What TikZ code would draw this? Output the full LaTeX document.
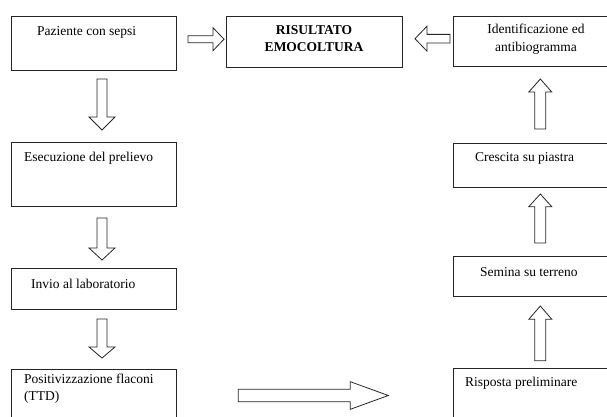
\documentclass[tikz,border=0pt]{standalone}
\usepackage{fontspec}
\setmainfont{Liberation Serif}
\usetikzlibrary{fit}

\tikzset{
  box/.style={draw=black!85, line width=0.9pt, inner sep=0pt, fill=none},
  lbl/.style={font=\fontsize{13.5}{17.5}\selectfont, inner sep=0pt, anchor=base west, align=left},
  ctr/.style={lbl, anchor=base, align=center},
  blk/.style={draw=black!85, line width=0.8pt, fill=white, line join=miter},
}

% Hollow block arrow: #1 direction angle, #2 tail centre,
% #3 shaft length, #4 head length, #5 shaft half width, #6 head half width
\newcommand\blockarrow[6]{%
  \draw[blk, shift={#2}, rotate=#1]
    (0,-#5) -- (#3,-#5) -- (#3,-#6) -- ({#3+#4},0) -- (#3,#6) -- (#3,#5) -- (0,#5) -- cycle;}

\begin{document}
\begin{tikzpicture}[x=1pt, y=-1pt]
  \useasboundingbox (0,0) rectangle (607,417);
  \clip (0,0) rectangle (607,417);

  % left column
  \node[box, fit={(11.7,16.7) (176,70)}]    (paz) {};
  \node[box, fit={(11.7,142.7) (176,206.7)}] (ese) {};
  \node[box, fit={(11.7,268.3) (176,309.3)}] (inv) {};
  \node[box, fit={(11.7,369.3) (176,430)}]   (pos) {};

  % result
  \node[box, fit={(226,16) (402.7,67.7)}]    (ris) {};

  % right column
  \node[box, fit={(453,16) (620,66.7)}]      (idf) {};
  \node[box, fit={(453,143) (620,187.3)}]    (cre) {};
  \node[box, fit={(453,256.5) (620,296)}]    (sem) {};
  \node[box, fit={(453,368.5) (620,430)}]    (rsp) {};

  % labels (multi-line labels are placed by the baseline of their last line)
  \node[lbl] (tpaz) at (37,36) {Paziente con sepsi};
  \node[lbl] (tese) at (24,161.7) {Esecuzione del prelievo};
  \node[lbl] (tinv) at (31,288.3) {Invio al laboratorio};
  \node[lbl] (tpos) at (24,400.5) {Positivizzazione flaconi\\(TTD)};
  \node[ctr] (tris) at (314,52) {\textbf{RISULTATO}\\\textbf{EMOCOLTURA}};
  \node[ctr] (tidf) at (536,51.5) {Identificazione ed\\antibiogramma};
  \node[lbl] (tcre) at (475,161.7) {Crescita su piastra};
  \node[lbl] (tsem) at (480,276) {Semina su terreno};
  \node[lbl] (trsp) at (465,386.7) {Risposta preliminare};

  % block arrows
  \blockarrow{0}{(188,39.2)}{25}{11}{3.5}{11.5}      % paz -> ris
  \blockarrow{180}{(450,38.7)}{23}{12}{4.3}{12.5}    % idf -> ris
  \blockarrow{-90}{(102,79)}{38}{13}{5}{13}          % paz -> ese
  \blockarrow{-90}{(102,218)}{30}{12}{5}{13}         % ese -> inv
  \blockarrow{-90}{(102,319)}{28}{11}{5}{13}         % inv -> pos
  \blockarrow{0}{(238.3,395.5)}{112}{38}{6.2}{13.8}  % pos -> rsp
  \blockarrow{90}{(540.3,360.7)}{41.4}{13.3}{5.5}{11.5} % rsp -> sem
  \blockarrow{90}{(540.3,243)}{36.3}{12.7}{5.5}{11.5}   % sem -> cre
  \blockarrow{90}{(540.3,129)}{37}{13}{5.5}{11.5}       % cre -> idf
\end{tikzpicture}
\end{document}
